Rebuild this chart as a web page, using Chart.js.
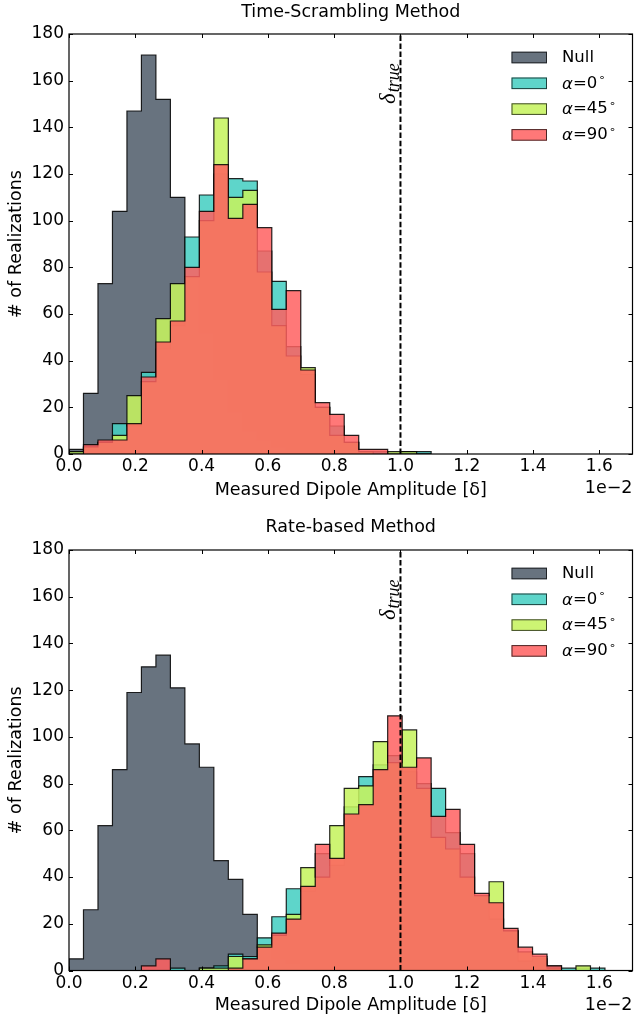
<!DOCTYPE html>
<html>
<head>
<meta charset="utf-8">
<script src="https://cdn.jsdelivr.net/npm/chart.js@4.4.1/dist/chart.umd.min.js"></script>
<style>
  html, body { margin: 0; padding: 0; background: #fff; overflow: hidden; width: 634px; height: 1017px; }
  canvas { position: absolute; left: 0; }
  #scrambling { top: 0; }
  #rate { top: 508px; }
</style>
</head>
<body>
<canvas id="scrambling" width="634" height="508"></canvas>
<canvas id="rate" width="634" height="516"></canvas>
<script>
// Histogram bins: equal-width bins starting at 0 (amplitude in units of 1e-2)
const binWidth = 0.0437;
const trueAmplitude = 1.0;
const trueLabelLevel = 150;

const xTickValues = [0.0, 0.2, 0.4, 0.6, 0.8, 1.0, 1.2, 1.4, 1.6];
const yTickValues = [0, 20, 40, 60, 80, 100, 120, 140, 160, 180];

const seriesNames = ['Null', 'α=0°', 'α=45°', 'α=90°'];

// Time-scrambling method: counts per bin
const scrambleNull = [2, 26, 73, 104, 147, 171, 152, 110, 75, 52, 32, 18, 10, 6, 3, 2, 1];
const scrambleA0   = [1, 3, 5, 13, 12, 35, 45, 55, 93, 111, 120, 118, 117, 87, 74, 46, 34, 20, 12, 5, 1, 1, 0, 1, 1];
const scrambleA45  = [1, 3, 5, 8, 25, 31, 58, 73, 76, 100, 144, 110, 113, 78, 55, 42, 37, 20, 8, 5, 1, 0, 1, 1, 0];
const scrambleA90  = [0, 4, 6, 6, 13, 33, 48, 57, 80, 104, 124, 101, 107, 97, 62, 70, 36, 22, 17, 8, 2, 2, 0, 0, 0];

// Rate-based method: counts per bin
const rateNull = [5, 26, 62, 86, 119, 130, 135, 121, 97, 87, 47, 39, 24, 10, 5, 3, 1];
const rateA0   = [0, 0, 0, 0, 0, 0, 0, 1, 0, 1, 2, 7, 6, 14, 23, 35, 34, 50, 45, 70, 83, 88, 92, 85, 80, 78, 59, 50, 32, 22, 17, 4, 5, 2, 1, 1, 1];
const rateA45  = [0, 0, 0, 0, 0, 0, 0, 0, 0, 1, 1, 6, 5, 11, 15, 24, 44, 40, 62, 78, 79, 98, 89, 103, 78, 57, 52, 40, 32, 38, 17, 8, 6, 1, 0, 2, 0];
const rateA90  = [0, 0, 0, 0, 0, 2, 5, 0, 0, 0, 0, 1, 5, 10, 16, 22, 36, 54, 48, 67, 71, 86, 109, 87, 91, 66, 69, 54, 33, 29, 18, 10, 7, 2, 0, 0, 0];

const fills = ['rgba(88,100,113,0.9)', 'rgba(72,207,195,0.88)', 'rgba(198,242,96,0.88)', 'rgba(255,96,96,0.85)'];
const edge = 'rgba(0,0,0,0.85)';
const FONT = '"DejaVu Sans", sans-serif';
const TICK_FS = 17;
const LABEL_FS = 17.5;
const LEGEND_FS = 16.5;

Chart.defaults.font.family = FONT;
Chart.defaults.font.size = TICK_FS;
Chart.defaults.color = '#000';

// Outline of a filled step histogram, closed down to zero at both ends
function stepPoints(counts) {
  const n = counts.length;
  const pts = [{ x: 0, y: 0 }];
  counts.forEach((c, i) => pts.push({ x: i * binWidth, y: c }));
  pts.push({ x: n * binWidth, y: counts[n - 1] });
  pts.push({ x: n * binWidth, y: 0 });
  return pts;
}

const decorations = {
  id: 'decorations',
  afterDatasetsDraw(chart, args, opts) {
    const { ctx, chartArea: a, scales: { x, y } } = chart;
    ctx.save();
    // panel title, centred over the plotting area
    ctx.fillStyle = '#000';
    ctx.font = LABEL_FS + 'px ' + FONT;
    ctx.textAlign = 'center';
    ctx.textBaseline = 'middle';
    ctx.fillText(opts.title, (a.left + a.right) / 2, opts.titleY);

    // reference amplitude
    const xt = x.getPixelForValue(trueAmplitude);
    ctx.strokeStyle = '#000';
    ctx.lineWidth = 2;
    ctx.setLineDash([5.5, 2.6]);
    ctx.beginPath();
    ctx.moveTo(xt, a.bottom);
    ctx.lineTo(xt, a.top);
    ctx.stroke();
    ctx.setLineDash([]);
    // axes frame
    ctx.lineWidth = 1.2;
    ctx.strokeRect(a.left, a.top, a.right - a.left, a.bottom - a.top);
    // inward tick marks on all four sides
    ctx.lineWidth = 1;
    const tl = 4;
    ctx.beginPath();
    xTickValues.forEach(v => {
      const px = Math.round(x.getPixelForValue(v)) + 0.5;
      ctx.moveTo(px, a.bottom); ctx.lineTo(px, a.bottom - tl);
      ctx.moveTo(px, a.top); ctx.lineTo(px, a.top + tl);
    });
    yTickValues.forEach(v => {
      const py = Math.round(y.getPixelForValue(v)) + 0.5;
      ctx.moveTo(a.left, py); ctx.lineTo(a.left + tl, py);
      ctx.moveTo(a.right, py); ctx.lineTo(a.right - tl, py);
    });
    ctx.stroke();

    // delta_true label, reading upwards beside the dashed line
    ctx.save();
    ctx.translate(xt - 5, y.getPixelForValue(trueLabelLevel));
    ctx.rotate(-Math.PI / 2);
    ctx.fillStyle = '#000';
    ctx.textBaseline = 'alphabetic';
    ctx.textAlign = 'left';
    ctx.font = 'italic 23px "Liberation Serif", serif';
    ctx.fillText('δ', 0, 0);
    const dw = ctx.measureText('δ').width;
    ctx.font = 'italic 18px "Liberation Serif", serif';
    ctx.fillText('true', dw + 1, 4);
    ctx.restore();

    // legend
    const px0 = a.right - 121, pw = 35.5, ph = 11.6;
    const tx = a.right - 70.5;
    ctx.textBaseline = 'middle';
    ctx.textAlign = 'left';
    seriesNames.forEach((name, i) => {
      const cy = a.top + 23.5 + i * 25.8;
      ctx.fillStyle = '#fff';
      ctx.fillRect(px0, cy - ph / 2, pw, ph);
      ctx.fillStyle = fills[i];
      ctx.fillRect(px0, cy - ph / 2, pw, ph);
      ctx.strokeStyle = 'rgba(0,0,0,0.7)';
      ctx.lineWidth = 1;
      ctx.strokeRect(px0 + 0.5, cy - ph / 2 + 0.5, pw - 1, ph - 1);
      ctx.fillStyle = '#000';
      if (name.startsWith('α')) {
        const digits = name.slice(2, -1);
        ctx.font = 'italic ' + LEGEND_FS + 'px ' + FONT;
        ctx.fillText('α', tx, cy + 1);
        let cx = tx + ctx.measureText('α').width;
        ctx.font = LEGEND_FS + 'px ' + FONT;
        const body = '=' + digits;
        ctx.fillText(body, cx, cy);
        cx += ctx.measureText(body).width + 1;
        ctx.font = '11px ' + FONT;
        ctx.fillText('∘', cx, cy - 5);
      } else {
        ctx.font = LEGEND_FS + 'px ' + FONT;
        ctx.fillText(name, tx, cy);
      }
    });

    // axis offset text
    ctx.font = LABEL_FS + 'px ' + FONT;
    ctx.textAlign = 'right';
    ctx.textBaseline = 'middle';
    ctx.fillText('1e\u22122', a.right, a.bottom + 34.5);
    ctx.restore();
  }
};

function makeChart(id, title, series, top, titleY, xHeight, xTitlePad) {
  const datasets = series.map((counts, i) => ({
    label: seriesNames[i],
    data: stepPoints(counts),
    stepped: 'before',
    fill: 'origin',
    backgroundColor: fills[i],
    borderColor: edge,
    borderWidth: 1.2,
    pointRadius: 0,
    order: series.length - i
  }));
  return new Chart(document.getElementById(id), {
    type: 'line',
    data: { datasets },
    plugins: [decorations],
    options: {
      responsive: false,
      animation: false,
      layout: { padding: { left: 0, right: 1.5, top: top, bottom: 0 } },
      plugins: {
        legend: { display: false },
        tooltip: { enabled: false },
        title: { display: false },
        decorations: { title: title, titleY: titleY }
      },
      scales: {
        x: {
          type: 'linear',
          min: 0,
          max: 1.7,
          grid: { display: false, drawTicks: false },
          border: { display: false },
          afterBuildTicks: s => { s.ticks = xTickValues.map(v => ({ value: v })); },
          afterFit: s => { s.height = xHeight; },
          ticks: { padding: 2.5, maxRotation: 0, autoSkip: false, callback: v => v.toFixed(1), font: { size: TICK_FS } },
          title: { display: true, text: 'Measured Dipole Amplitude [δ]', font: { size: LABEL_FS }, padding: { top: 0, bottom: xTitlePad } }
        },
        y: {
          min: 0,
          max: 180,
          grid: { display: false, drawTicks: false },
          border: { display: false },
          afterBuildTicks: s => { s.ticks = yTickValues.map(v => ({ value: v })); },
          afterFit: s => { s.width = 69; },
          ticks: { padding: 5, font: { size: TICK_FS } },
          title: { display: true, text: '# of Realizations', font: { size: LABEL_FS }, padding: { top: 5.5, bottom: 0 } }
        }
      }
    }
  });
}

makeChart('scrambling', 'Time-Scrambling Method',
  [scrambleNull, scrambleA0, scrambleA45, scrambleA90],
  34, 12, 54, 7.5);
makeChart('rate', 'Rate-based Method',
  [rateNull, rateA0, rateA45, rateA90],
  42, 19, 53.5, 8.5);
</script>
</body>
</html>
